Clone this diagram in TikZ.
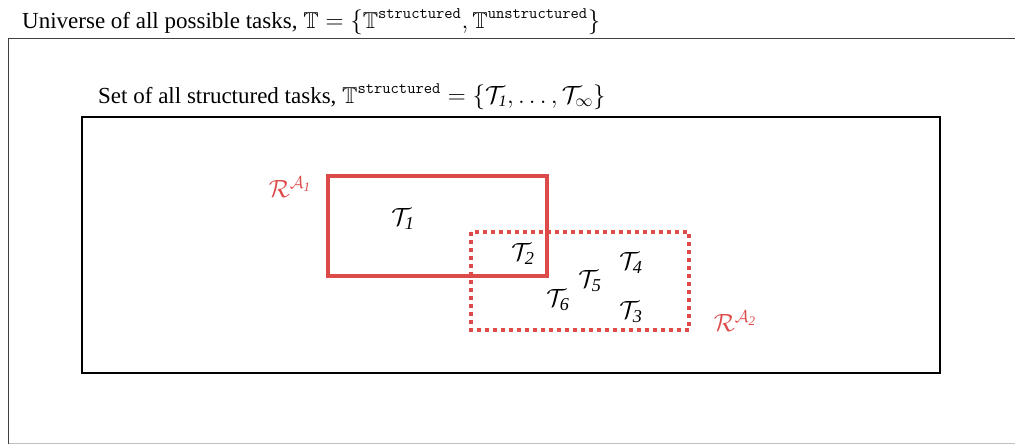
\documentclass[tikz,border=0pt]{standalone}
\usepackage{amssymb}
\usepackage{fontspec}
\setmainfont{Liberation Serif}
\definecolor{setred}{HTML}{DD4A4A}
\begin{document}
\begin{tikzpicture}[x=1pt,y=-1pt,
  lbl/.style={inner sep=0pt,anchor=base west,font=\fontsize{23}{27}\selectfont},
  tsk/.style={inner sep=0pt,font=\fontsize{26}{30}\selectfont},
  rlab/.style={inner sep=0pt,text=setred,font=\fontsize{26}{30}\selectfont},
  frame/.style={draw=black,line width=1.4pt},
  regA/.style={draw=setred,line width=4pt},
  regB/.style={draw=setred,line width=4pt,dash pattern=on 4pt off 4pt}]
\useasboundingbox (0,0) rectangle (1015,445);
% outer universe frame (cut at right and bottom)
\draw[line width=1.3pt,draw=black!75] (1020,38.5) -- (8.5,38.5) -- (8.5,443.5);
\draw[line width=1pt,draw=black!25] (8.5,443.5) -- (1020,443.5);
\node[lbl] (univ) at (22,28) {Universe of all possible tasks, $\mathbb{T}=\{\mathbb{T}^{\mathtt{structured}},\mathbb{T}^{\mathtt{unstructured}}\}$};
% structured set
\node[frame,minimum width=858pt,minimum height=256pt,inner sep=0pt] (struct) at (511,245) {};
\node[lbl] (slab) at (98,103) {Set of all structured tasks, $\mathbb{T}^{\mathtt{structured}}=\{\mathcal{T}_{\mathit{1}},\dots,\mathcal{T}_{\infty}\}$};
% regions
\draw[regB] (471,232) rectangle (689,330);
\draw[regA] (328,176) rectangle (547,276);
\node[rlab] (ra1) at (290,187) {$\mathcal{R}^{\mathcal{A}_{\mathit{1}}}$};
\node[rlab] (ra2) at (735,321) {$\mathcal{R}^{\mathcal{A}_{\mathit{2}}}$};
% tasks
\node[tsk] (t1) at (403,219) {$\mathcal{T}_{\mathit{1}}$};
\node[tsk] (t2) at (523,254) {$\mathcal{T}_{\mathit{2}}$};
\node[tsk] (t4) at (631,263) {$\mathcal{T}_{\mathit{4}}$};
\node[tsk] (t5) at (590,281) {$\mathcal{T}_{\mathit{5}}$};
\node[tsk] (t6) at (558,300) {$\mathcal{T}_{\mathit{6}}$};
\node[tsk] (t3) at (631,312) {$\mathcal{T}_{\mathit{3}}$};
\end{tikzpicture}
\end{document}
